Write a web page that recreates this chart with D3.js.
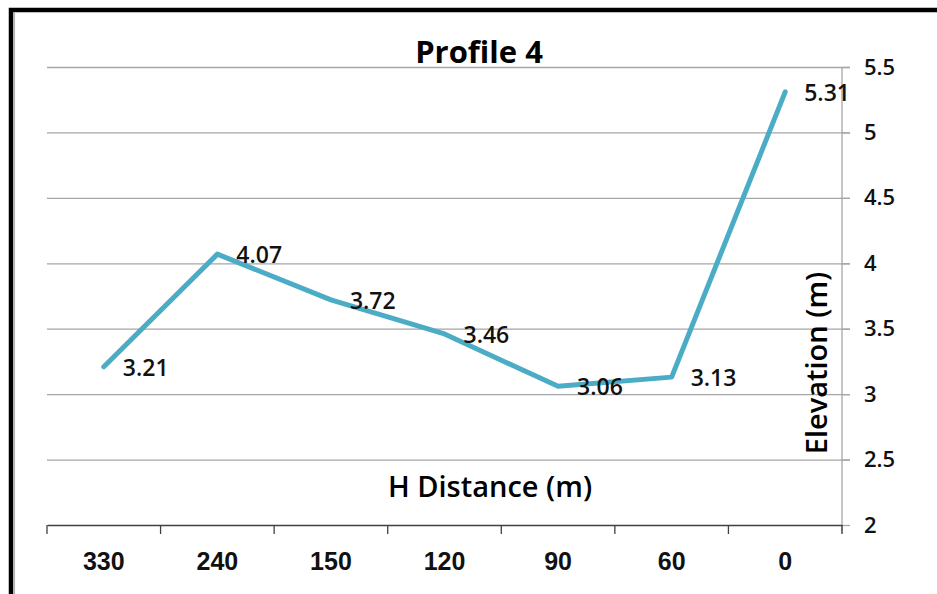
<!DOCTYPE html>
<html>
<head>
    <title></title>
    <style>
        body { margin: 0; background: #fff; }
        text { font-family: "Open Sans", sans-serif; }
    </style>
</head>
<body>
<div id="container"></div>

<script src="https://d3js.org/d3.v7.min.js" type="text/javascript"></script>
<script type="text/javascript">
    // data
    const distances = ['330', '240', '150', '120', '90', '60', '0'];
    const elevations = [3.21, 4.07, 3.72, 3.46, 3.06, 3.13, 5.31];
    const yTicks = [2, 2.5, 3, 3.5, 4, 4.5, 5, 5.5];

    let w = 937;
    let h = 594;
    const svg = d3.select('#container')
        .append('svg')
        .attr('width', w)
        .attr('height', h)

    const plot = {left: 47, right: 842, top: 67, bottom: 525};

    // frame
    svg.append('path')
        .attr('d', `M11,${h} L11,10 L${w},10`)
        .style('fill', 'none')
        .style('stroke', '#000')
        .style('stroke-width', 4.5);
    svg.append('line')
        .attr('x1', 14.3).attr('x2', 14.3)
        .attr('y1', 12.5).attr('y2', h)
        .style('stroke', '#b0b0b0')
        .style('stroke-width', 1.5);

    let x = d3.scaleBand().domain(distances).range([plot.left, plot.right]).padding(0);
    let y = d3.scaleLinear().domain([2, 5.5]).range([plot.bottom, plot.top]);

    // gridlines
    svg.append('g')
        .selectAll('line')
        .data(yTicks.filter(d => d > 2))
        .join('line')
        .attr('x1', plot.left)
        .attr('x2', plot.right + 8)
        .attr('y1', d => y(d) + 0.5)
        .attr('y2', d => y(d) + 0.5)
        .style('stroke', '#a6a6a6')
        .style('stroke-width', 1.3);

    // right y axis
    let yAxis = d3.axisRight(y).tickValues(yTicks).tickSize(8).tickPadding(14)
        .tickFormat(d => d);
    let ya = svg.append('g')
        .attr('transform', `translate(${plot.right}, 0)`)
        .call(yAxis);
    ya.select('.domain').style('stroke', '#a6a6a6').style('stroke-width', 1.3)
        .attr('d', `M0,${plot.top}V${plot.bottom + 8}`);
    ya.selectAll('.tick line').style('stroke', '#a6a6a6').style('stroke-width', 1.3);
    ya.selectAll('.tick text')
        .style('font-family', '"Open Sans", sans-serif')
        .style('font-size', '22px')
        .style('font-weight', 600)
        .style('fill', '#111');

    // bottom x axis
    let xa = svg.append('g')
        .attr('transform', `translate(0, ${plot.bottom})`)
        .call(d3.axisBottom(x).tickSize(0).tickPadding(27));
    xa.select('.domain').style('stroke', '#404040').style('stroke-width', 1.5);
    xa.selectAll('.tick text')
        .style('font-family', '"Liberation Sans", Arial, sans-serif')
        .style('font-size', '25px')
        .style('font-weight', 600)
        .style('fill', '#111');

    let bounds = distances.map(d => x(d)).concat([plot.right]);
    xa.append('g')
        .selectAll('line')
        .data(bounds)
        .join('line')
        .attr('x1', d => d).attr('x2', d => d)
        .attr('y1', 0).attr('y2', 9)
        .style('stroke', '#404040')
        .style('stroke-width', 1.3);

    // line
    const pts = distances.map((d, i) => [x(d) + x.bandwidth() / 2, y(elevations[i])]);
    svg.append('path')
        .datum(pts)
        .attr('d', d3.line())
        .style('fill', 'none')
        .style('stroke', '#4bacc6')
        .style('stroke-width', 5)
        .style('stroke-linejoin', 'round')
        .style('stroke-linecap', 'round');

    // data labels
    svg.append('g')
        .selectAll('text')
        .data(pts)
        .join('text')
        .attr('x', d => d[0] + 19)
        .attr('y', d => d[1] + 9)
        .text((d, i) => elevations[i])
        .style('font-size', '23px')
        .style('font-weight', 600)
        .style('fill', '#111');

    // titles
    svg.append('text')
        .attr('x', 479).attr('y', 63)
        .attr('text-anchor', 'middle')
        .text('Profile 4')
        .style('font-size', '31px')
        .style('font-weight', 700)
        .style('fill', '#000');

    svg.append('text')
        .attr('x', 490).attr('y', 497)
        .attr('text-anchor', 'middle')
        .text('H Distance (m)')
        .style('font-size', '29px')
        .style('font-weight', 600)
        .style('fill', '#000');

    svg.append('text')
        .attr('transform', 'translate(827, 363) rotate(-90)')
        .attr('text-anchor', 'middle')
        .text('Elevation (m)')
        .style('font-size', '29px')
        .style('font-weight', 600)
        .style('fill', '#000');
</script>

</body>
</html>
